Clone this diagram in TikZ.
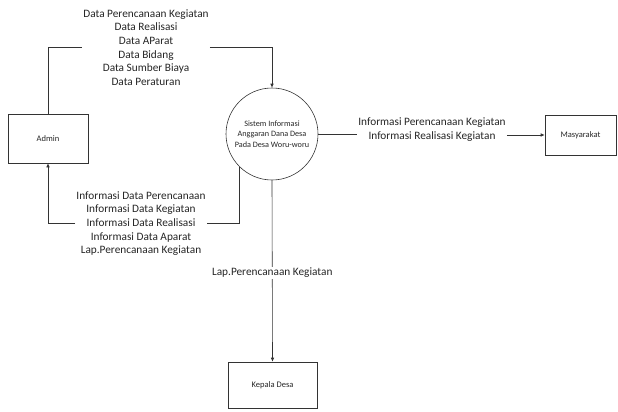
\documentclass[tikz,border=0pt]{standalone}
\usepackage{fontspec}
\setmainfont{Carlito}
\usetikzlibrary{arrows.meta,positioning}
\tikzset{
	dfd/.style={
		x=1pt, y=-1pt,
		line width=.6pt,
		every node/.style={font=\fontsize{11.3}{13.6}\selectfont, text=black!85},
		flow/.style={draw=black!80, -{Latex[length=4pt,width=3.5pt]}},
		wire/.style={draw=black!80},
		lbl/.style={align=center, inner sep=1pt, fill=white},
		},
	entity/.style={draw=black!80, minimum width=#1, font=\fontsize{8.5}{10}\selectfont},
	entity/.default=80pt,
	proc/.style={draw=black!80, circle, minimum size=92pt, inner sep=0pt, align=center,
		font=\fontsize{8.2}{10.5}\selectfont}
}
\begin{document}
\begin{tikzpicture}[dfd]
	\useasboundingbox (0,0) rectangle (618,412);
	\node[entity=80pt, minimum height=49pt] (admin) at (48,138.5) {Admin};
	\node[proc] (sis) at (272,134) {Sistem Informasi\\Anggaran Dana Desa\\Pada Desa Woru-woru};
	\node[entity=71pt, minimum height=40pt] (masy) at (580.5,135) {Masyarakat};
	\node[entity=89pt, minimum height=46pt] (kepala) at (272.5,385) {Kepala Desa};
	% labels
	\node[lbl] (datain) at (146,47.5) {Data Perencanaan Kegiatan\\Data Realisasi\\Data AParat\\Data Bidang\\Data Sumber Biaya\\Data Peraturan};
	\node[lbl] (infoout) at (141,223.5) {Informasi Data Perencanaan\\Informasi Data Kegiatan\\Informasi Data Realisasi\\Informasi Data Aparat\\Lap.Perencanaan Kegiatan};
	\node[lbl] (infomasy) at (432,129.5) {Informasi Perencanaan Kegiatan\\Informasi Realisasi Kegiatan};
	% flows
	\draw[wire] (admin.north) |- (datain.west);
	\draw[flow] (datain.east) -| (sis.north);
	\draw[wire] (sis.225) |- (infoout.east);
	\draw[flow] (infoout.west) -| (admin.south);
	\draw[wire] (sis.east) -- (sis.east -| infomasy.west);
	\draw[flow] (infomasy.east |- masy.west) -- (masy.west);
	\draw[flow] (sis.south) -- node[lbl, pos=.51] (lapkep) {Lap.Perencanaan Kegiatan} (kepala.north);
\end{tikzpicture}
\end{document}
